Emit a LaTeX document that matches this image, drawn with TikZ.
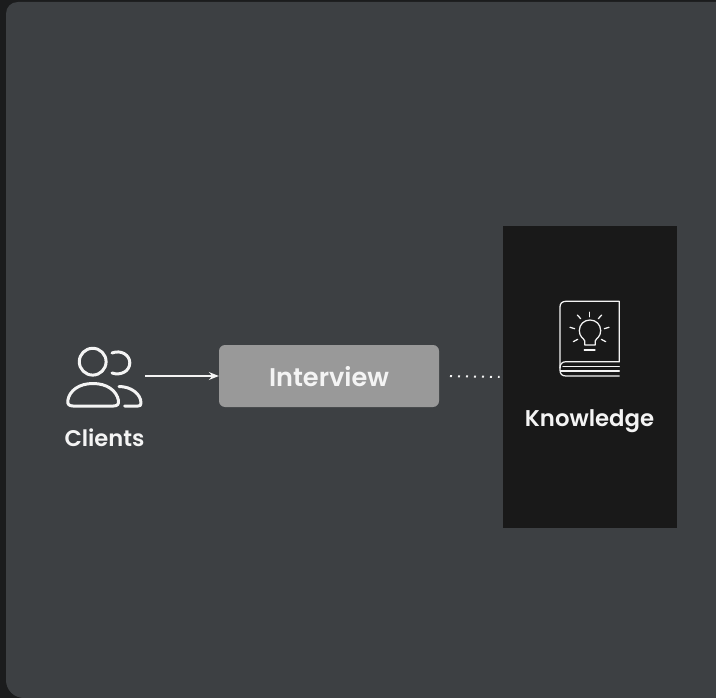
\documentclass[tikz,border=0pt]{standalone}
\usepackage{fontspec}
\setmainfont[BoldFont={Poppins SemiBold}]{Poppins}
\usetikzlibrary{arrows.meta}
\definecolor{outerbg}{HTML}{1B1C1D}
\definecolor{panelbg}{HTML}{3D4043}
\definecolor{boxgrey}{HTML}{999999}
\definecolor{boxdark}{HTML}{191919}
\definecolor{inkwhite}{HTML}{F4F4F4}
\tikzset{
  x=1pt,y=-1pt,
  label text/.style={text=inkwhite,font=\fontsize{#1}{#1}\selectfont\bfseries,inner sep=0pt,anchor=base},
  person/.style={draw=inkwhite,line width=3pt,line cap=round,line join=round},
  bookline/.style={draw=inkwhite,line width=1.25pt,line cap=round,line join=round},
  flow/.style={draw=inkwhite,line width=1.3pt,-{Stealth[length=10pt,width=8pt,inset=3.5pt]}},
  dots/.style={draw=inkwhite,line width=2pt,dash pattern=on 2pt off 6pt},
}
\begin{document}
\begin{tikzpicture}
\useasboundingbox (0,0) rectangle (716,698);
\fill[outerbg] (0,0) rectangle (716,698);
\fill[panelbg] (716,2) -- (18,2) .. controls (11,2) and (6,7) .. (6,14) -- (6,680)
  .. controls (6,690) and (14,698) .. (24,698) -- (716,698) -- cycle;

% boxes
\node[fill=boxgrey,rounded corners=6pt,minimum width=220pt,minimum height=62pt,inner sep=0pt] (interviewbox) at (329,376) {};
\node[label text=25.6] (interview) at (329,386) {Interview};
\node[fill=boxdark,minimum width=174pt,minimum height=302pt,inner sep=0pt] (knowledgebox) at (590,377) {};
\node[label text=22.8] (knowledge) at (589.5,426) {Knowledge};
\node[label text=22.6] (clients) at (104.5,446) {Clients};

% client icon
\coordinate (clientsicon) at (145,376);
\draw[person] (92.7,361.7) circle[radius=13.4];
\draw[person] (112,353) .. controls (121,349.5) and (129.8,355) .. (129.8,362.8)
  .. controls (129.8,371) and (121,376) .. (112,373);
\draw[person] (73,406) -- (113.5,406) .. controls (117.5,406) and (119,404) .. (118.5,400.5)
  .. controls (116.5,390.5) and (107,383.5) .. (93,383.5)
  .. controls (79,383.5) and (69.5,390.5) .. (67.8,400.5)
  .. controls (67.2,404) and (69,406) .. (73,406) -- cycle;
\draw[person] (119,386.5) .. controls (131,386.5) and (141,394) .. (141,403)
  .. controls (141,405.5) and (140,406) .. (138,406) -- (124.5,406);

% connectors
\draw[flow] (clientsicon) -- (interviewbox.west);
\draw[dots,shorten <=10.8pt,shorten >=3.2pt] (interviewbox.east) -- (knowledgebox.west);

% book icon
\draw[bookline] (619.3,361.7) -- (619.3,301.3) -- (566,301.3)
  .. controls (562,301.3) and (560,303.5) .. (560,307) -- (560,370)
  .. controls (560,374) and (562,376) .. (566,376) -- (619.3,376);
\draw[bookline] (619.3,361.7) -- (566,361.7) .. controls (562,361.7) and (560,364) .. (560,368);
\draw[bookline] (563,366.3) -- (619.3,366.3);
\draw[bookline] (560.5,371) -- (619.3,371);

% bulb
\draw[bookline] (584.8,345) -- (584.8,341) .. controls (584,338.5) and (579.3,337) .. (579.3,330.7)
  .. controls (579.3,324.5) and (584,320) .. (590,320)
  .. controls (596,320) and (600.7,324.5) .. (600.7,330.7)
  .. controls (600.7,337) and (596,338.5) .. (595.2,341) -- (595.2,345) -- cycle;
\draw[bookline] (584.3,350) -- (595,350);
\draw[bookline] (589.3,312.3) -- (589.3,316.7);
\draw[bookline] (577.3,315) -- (580.7,318.7);
\draw[bookline] (601.7,315) -- (598.3,318.7);
\draw[bookline] (570,327.3) -- (574.7,328.7);
\draw[bookline] (609,327.3) -- (604.3,328.7);
\draw[bookline] (573.3,341.7) -- (577.7,339.3);
\draw[bookline] (605.7,341.7) -- (601.3,339.3);
\end{tikzpicture}
\end{document}
